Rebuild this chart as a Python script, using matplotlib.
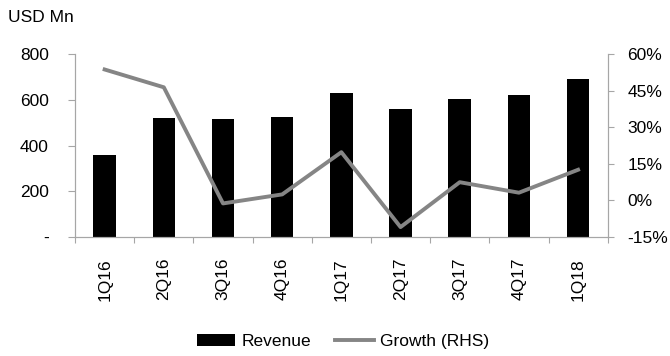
import matplotlib.pyplot as plt
from matplotlib.ticker import FuncFormatter

plt.rcParams['font.family'] = ['Liberation Sans', 'DejaVu Sans']
plt.rcParams['font.size'] = 12.5

quarters = ['1Q16', '2Q16', '3Q16', '4Q16', '1Q17', '2Q17', '3Q17', '4Q17', '1Q18']
revenue = [357, 521, 516, 527, 629, 559, 604, 623, 692]
growth = [53.7, 46.4, -1.2, 2.5, 19.8, -10.9, 7.5, 3.2, 12.6]

grey = '#858585'
axis_grey = '#a6a6a6'

fig = plt.figure(figsize=(6.7, 3.56), dpi=100)
ax = fig.add_axes([0.112, 0.334, 0.795, 0.514])
ax2 = ax.twinx()

x = list(range(len(quarters)))
bars = ax.bar(x, revenue, width=0.38, color='black', label='Revenue', zorder=2)
line, = ax2.plot(x, growth, color=grey, lw=2.8, label='Growth (RHS)', zorder=3)

ax.set_xlim(-0.5, len(quarters) - 0.5)
ax.set_ylim(0, 800)
ax.set_yticks([0, 200, 400, 600, 800])
ax.yaxis.set_major_formatter(FuncFormatter(lambda v, p: '-' if v == 0 else f'{v:.0f}'))
ax2.set_ylim(-15, 60)
ax2.set_yticks([-15, 0, 15, 30, 45, 60])
ax2.yaxis.set_major_formatter(FuncFormatter(lambda v, p: f'{v:.0f}%'))

ax.set_xticks([i - 0.5 for i in range(len(quarters) + 1)])
ax.set_xticklabels([])
ax.set_xticks(x, minor=True)
ax.set_xticklabels(quarters, minor=True, rotation=90)
ax.tick_params(axis='x', which='minor', length=0, pad=15)

for a in (ax, ax2):
    a.spines['top'].set_visible(False)
    for s in ('left', 'right', 'bottom'):
        a.spines[s].set_color(axis_grey)
    a.tick_params(colors=axis_grey, labelcolor='black')
ax.tick_params(axis='x', which='major', length=4.5)
ax.tick_params(axis='y', length=5, pad=14)
ax2.tick_params(axis='y', length=4, pad=10)

fig.text(0.012, 0.95, 'USD Mn', fontsize=12.5, ha='left', va='center')

fig.legend([bars, line], ['Revenue', 'Growth (RHS)'], loc='center', bbox_to_anchor=(0.512, 0.04),
           ncol=2, frameon=False, handlelength=2.2, handletextpad=0.35, columnspacing=1.4)

fig.savefig('out.png', dpi=100)
